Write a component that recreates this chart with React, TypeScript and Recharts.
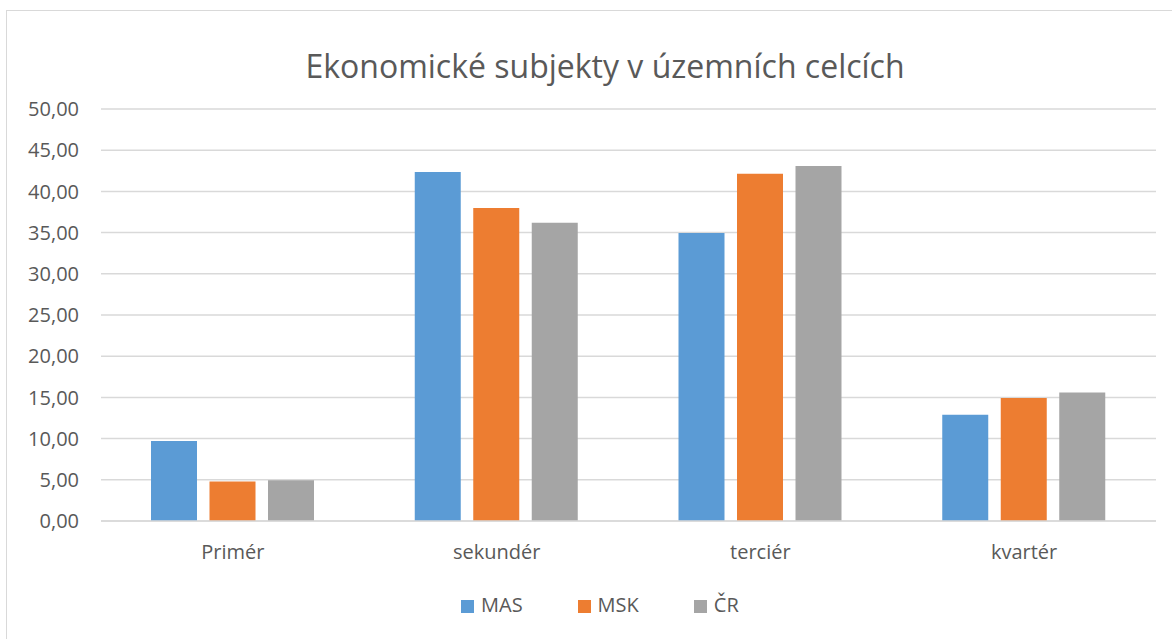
import { BarChart, Bar, XAxis, YAxis, CartesianGrid } from 'recharts';

const categories = ['Primér', 'sekundér', 'terciér', 'kvartér'];
const masValues = [9.7, 42.35, 34.95, 12.9];
const mskValues = [4.8, 38.0, 42.15, 14.93];
const crValues = [4.95, 36.2, 43.08, 15.6];
const yTicks = [0, 5, 10, 15, 20, 25, 30, 35, 40, 45, 50];

const series = [
  { key: 'mas', name: 'MAS', color: '#5B9BD5' },
  { key: 'msk', name: 'MSK', color: '#ED7D31' },
  { key: 'cr', name: 'ČR', color: '#A5A5A5' },
];

const data = categories.map((name, i) => ({
  name,
  mas: masValues[i],
  msk: mskValues[i],
  cr: crValues[i],
}));

const FONT = '"Open Sans", sans-serif';
const TEXT = '#595959';

const formatTick = (v: number) => v.toFixed(2).replace('.', ',');

export default function App() {
  return (
    <div
      style={{
        position: 'absolute',
        left: 0,
        top: 0,
        width: 1172,
        height: 639,
        background: '#fff',
        overflow: 'hidden',
        fontFamily: FONT,
      }}
    >
      {/* chart frame, right and bottom edges fall outside the picture */}
      <div
        style={{
          position: 'absolute',
          left: 6,
          top: 10,
          width: 1200,
          height: 700,
          border: '1.5px solid #d9d9d9',
          boxSizing: 'border-box',
        }}
      />

      <div
        style={{
          position: 'absolute',
          left: 0,
          top: 44,
          width: 1210,
          textAlign: 'center',
          fontSize: 32,
          color: TEXT,
          lineHeight: '44px',
        }}
      >
        Ekonomické subjekty v územních celcích
      </div>

      <div style={{ position: 'absolute', left: 0, top: 0 }}>
        <BarChart
          width={1172}
          height={639}
          data={data}
          margin={{ top: 109, right: 16, left: 0, bottom: 88 }}
          barSize={46}
          barGap={12.5}
        >
          <CartesianGrid vertical={false} stroke="#d9d9d9" strokeWidth={1.5} />
          <XAxis
            dataKey="name"
            height={30}
            axisLine={{ stroke: '#d9d9d9', strokeWidth: 1.5 }}
            tickLine={false}
            tickSize={0}
            tickMargin={24}
            tick={{ fill: TEXT, fontSize: 20, fontFamily: FONT }}
          />
          <YAxis
            domain={[0, 50]}
            ticks={yTicks}
            width={101}
            axisLine={false}
            tickLine={false}
            tickSize={0}
            tickMargin={22}
            tickFormatter={formatTick}
            tick={{ fill: TEXT, fontSize: 20, fontFamily: FONT }}
          />
          {series.map((s) => (
            <Bar key={s.key} dataKey={s.key} name={s.name} fill={s.color} isAnimationActive={false} />
          ))}
        </BarChart>
      </div>

      <div
        style={{
          position: 'absolute',
          left: 461,
          top: 591,
          display: 'flex',
          alignItems: 'center',
          gap: 55,
          fontSize: 20,
          color: TEXT,
          lineHeight: '28px',
        }}
      >
        {series.map((s) => (
          <div key={s.key} style={{ display: 'flex', alignItems: 'center' }}>
            <span
              style={{
                display: 'inline-block',
                width: 13,
                height: 13,
                background: s.color,
                marginRight: 7,
                marginTop: 2,
              }}
            />
            <span>{s.name}</span>
          </div>
        ))}
      </div>
    </div>
  );
}
